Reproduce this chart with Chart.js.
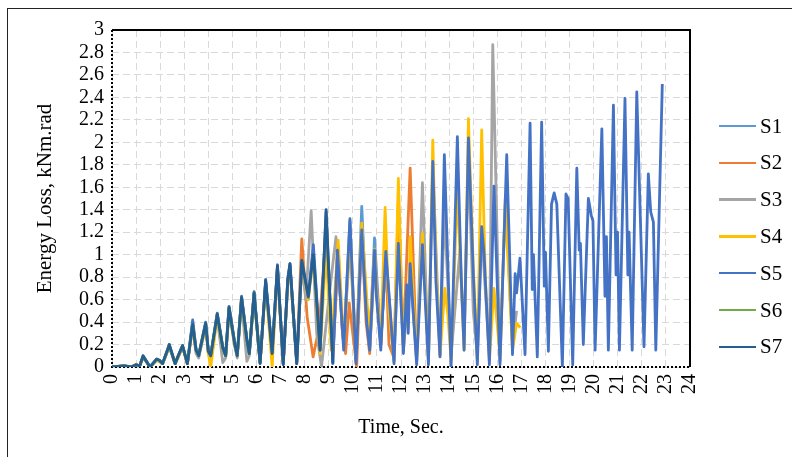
<!DOCTYPE html>
<html>
<head>
<meta charset="utf-8">
<script src="https://cdn.jsdelivr.net/npm/chart.js@4.4.0/dist/chart.umd.min.js"></script>
<style>
  body { margin: 0; background: #fff; }
  #wrap { position: relative; width: 792px; height: 457px; overflow: hidden; }
  #frame { position: absolute; left: 7px; top: 8px; width: 820px; height: 480px; border: 1px solid #222; pointer-events: none; }
  .key { position: absolute; left: 719px; height: 24px; display: flex; align-items: center; font: 21px "Liberation Serif", serif; color: #000; }
  .key .swatch { width: 37px; height: 2.5px; margin-right: 4px; }
</style>
</head>
<body>
<div id="wrap">
  <canvas id="energyChart" width="792" height="457"></canvas>
  <div id="frame"></div>
  <div id="legend"></div>
</div>
<script>
const seriesNames = ['S1', 'S2', 'S3', 'S4', 'S5', 'S6', 'S7'];
const seriesColors = ['#5B9BD5', '#ED7D31', '#A5A5A5', '#FFC000', '#4472C4', '#70AD47', '#255E91'];

// time stamps of the peaks / troughs (sec)
const baseTime = [0, 0.5, 0.8, 1.0, 1.15, 1.29, 1.58, 1.85, 1.97, 2.1, 2.38, 2.62, 2.75, 2.93, 3.13,
  3.35, 3.49, 3.6, 3.89, 4.0, 4.1, 4.37, 4.6, 4.72, 4.86, 5.1, 5.2, 5.38, 5.6, 5.7, 5.9, 6.15,
  6.38, 6.65, 6.87, 7.11, 7.3, 7.39, 7.67, 7.88, 8.15, 8.36, 8.64, 8.89];

const s1Time = baseTime.concat([9.17, 9.36, 9.62, 9.88, 10.13, 10.37, 10.58, 10.7, 10.9, 11.16, 11.37, 11.6]);
const s1Energy = [0, 0.01, 0.0, 0.02, 0.01, 0.09, 0.0, 0.06, 0.05, 0.03, 0.18, 0.03, 0.09, 0.18, 0.03,
  0.40, 0.15, 0.10, 0.37, 0.14, 0.10, 0.45, 0.17, 0.10, 0.52, 0.20, 0.10, 0.60, 0.24, 0.12, 0.65, 0.04,
  0.75, 0.12, 0.88, 0.03, 0.76, 0.90, 0.04, 0.92, 0.60, 1.05, 0.15, 1.30,
  0.05, 1.0, 0.2, 1.3, 0.05, 1.43, 0.4, 0.2, 1.15, 0.2, 1.0, 0.3];

const s2Time = baseTime.slice(0, 38).concat([7.67, 7.88, 8.1, 8.35, 8.6, 8.89, 9.17, 9.4, 9.55, 9.7, 9.85,
  10.16, 10.37, 10.55, 10.7, 10.9, 11.16, 11.37, 11.5, 11.71, 11.89, 12.1, 12.38, 12.65]);
const s2Energy = [0, 0.01, 0.0, 0.02, 0.01, 0.09, 0.0, 0.06, 0.05, 0.03, 0.19, 0.03, 0.09, 0.18, 0.03,
  0.37, 0.14, 0.10, 0.38, 0.13, 0.10, 0.46, 0.16, 0.10, 0.52, 0.19, 0.10, 0.61, 0.23, 0.12, 0.65, 0.04,
  0.76, 0.12, 0.89, 0.03, 0.77, 0.90,
  0.05, 1.14, 0.45, 0.09, 0.35, 1.2, 0.1, 1.0, 0.35, 0.12, 0.57, 0.0, 1.2, 0.4, 0.12, 1.0, 0.2, 1.0,
  0.2, 0.08, 1.5, 0.2, 1.77, 0.05];

const s3Time = baseTime.slice(0, 38).concat([7.67, 7.88, 8.05, 8.27, 8.5, 8.7, 9.0, 9.3, 9.62, 9.88, 10.13,
  10.37, 10.7, 10.9, 11.16, 11.37, 11.71, 11.89, 12.1, 12.38, 12.65, 12.89, 13.14, 13.32, 13.62, 13.8,
  14.08, 14.45, 14.62, 14.8, 15.0, 15.17, 15.35, 15.67, 15.81, 16.11, 16.33, 16.63, 16.8]);
const s3Energy = [0, 0.01, 0.0, 0.02, 0.01, 0.09, 0.0, 0.06, 0.05, 0.03, 0.18, 0.03, 0.09, 0.18, 0.03,
  0.36, 0.12, 0.08, 0.36, 0.12, 0.08, 0.44, 0.04, 0.08, 0.50, 0.18, 0.08, 0.58, 0.05, 0.10, 0.62, 0.04,
  0.74, 0.10, 0.86, 0.03, 0.74, 0.88,
  0.05, 0.9, 0.6, 1.39, 0.3, 0.0, 0.6, 1.16, 0.2, 1.1, 0.1, 1.1, 0.15, 0.9, 0.2, 1.0, 0.05, 1.08, 0.15,
  0.85, 0.05, 1.64, 0.05, 1.8, 0.1, 1.4, 0.1, 1.05, 0.2, 1.9, 0.5, 0.1, 1.2, 0.1, 2.87, 0.05, 1.5, 0.2, 0.5];

const s4Time = baseTime.concat([9.1, 9.39, 9.62, 9.88, 10.13, 10.37, 10.6, 10.7, 10.9, 11.0, 11.16, 11.34,
  11.5, 11.71, 11.89, 12.1, 12.24, 12.3, 12.38, 12.65, 12.89, 13.14, 13.32, 13.45, 13.62, 13.82, 13.95,
  14.08, 14.34, 14.45, 14.62, 14.8, 15.0, 15.17, 15.35, 15.5, 15.67, 15.86, 16.11, 16.33, 16.63, 16.8, 16.95]);
const s4Energy = [0, 0.01, 0.0, 0.02, 0.01, 0.09, 0.0, 0.06, 0.05, 0.03, 0.18, 0.03, 0.09, 0.18, 0.03,
  0.36, 0.15, 0.10, 0.37, 0.12, 0.0, 0.45, 0.16, 0.10, 0.50, 0.19, 0.10, 0.60, 0.23, 0.12, 0.64, 0.04,
  0.74, 0.0, 0.88, 0.03, 0.76, 0.88, 0.04, 0.92, 0.6, 1.0, 0.12, 1.05,
  0.15, 1.13, 0.2, 1.2, 0.1, 1.28, 0.55, 0.3, 1.05, 0.62, 0.2, 1.42, 0.5, 0.05, 1.68, 0.15, 0.7, 0.35,
  1.16, 0.05, 1.19, 0.05, 2.02, 0.9, 0.1, 0.7, 0.45, 0.05, 1.6, 1.0, 0.15, 2.21, 0.9, 0.05, 2.11, 0.8,
  0.05, 0.7, 0.1, 1.45, 0.15, 0.39, 0.35];

const s5Time = baseTime.concat([9.17, 9.36, 9.62, 9.88, 10.13, 10.37, 10.58, 10.7, 10.9, 10.98, 11.16,
  11.37, 11.71, 11.89, 12.1, 12.24, 12.3, 12.38, 12.65, 12.89, 13.14, 13.32, 13.45, 13.62, 13.8, 14.08,
  14.34, 14.5, 14.62, 14.8, 15.0, 15.17, 15.35, 15.45, 15.67, 15.86, 16.11, 16.39, 16.63, 16.74, 16.8,
  16.94, 17.15, 17.36, 17.45, 17.5, 17.66, 17.84, 17.95, 18.0, 18.12, 18.25, 18.36, 18.47, 18.7, 18.85,
  18.94, 19.13, 19.3, 19.4, 19.45, 19.57, 19.78, 19.9, 19.97, 20.06, 20.34, 20.47, 20.53, 20.61, 20.82,
  20.93, 20.99, 21.07, 21.3, 21.42, 21.47, 21.6, 21.79, 22.09, 22.27, 22.37, 22.48, 22.58, 22.85]);
const s5Energy = [0, 0.01, 0.0, 0.02, 0.01, 0.09, 0.0, 0.07, 0.06, 0.03, 0.19, 0.03, 0.10, 0.19, 0.03,
  0.42, 0.16, 0.11, 0.40, 0.15, 0.11, 0.48, 0.18, 0.11, 0.54, 0.21, 0.11, 0.63, 0.25, 0.12, 0.67, 0.04,
  0.78, 0.13, 0.91, 0.03, 0.79, 0.92, 0.03, 0.93, 0.62, 1.09, 0.15, 1.38,
  0.03, 1.04, 0.15, 1.32, 0.03, 1.22, 0.39, 0.15, 1.04, 0.63, 0.15,
  1.03, 0.03, 1.1, 0.12, 0.73, 0.3, 0.92, 0.02, 1.09, 0.02, 1.83, 0.76, 0.09, 1.89, 0.0,
  2.05, 0.8, 0.15, 2.04, 0.84, 0.02, 1.25, 1.0, 0.02, 1.61, 0.02, 1.89, 0.11, 0.83, 0.66,
  0.97, 0.11, 2.17, 0.69, 1.0, 0.09, 2.18, 0.72, 1.02, 0.14, 1.45, 1.55, 1.45, 0.0, 1.54,
  1.5, 0.02, 1.77, 1.04, 1.1, 0.2, 1.5, 1.35, 1.3, 0.15, 2.12, 0.63, 1.16, 0.15, 2.33,
  0.82, 1.2, 0.15, 2.39, 0.82, 1.2, 0.15, 2.45, 0.18, 1.72, 1.38, 1.29, 0.15, 2.52];

const s6Time = baseTime.slice(0, 32);
const s6Energy = [0, 0.01, 0.0, 0.02, 0.01, 0.10, 0.0, 0.07, 0.06, 0.03, 0.20, 0.03, 0.10, 0.19, 0.03,
  0.38, 0.15, 0.10, 0.39, 0.14, 0.10, 0.47, 0.17, 0.10, 0.53, 0.20, 0.10, 0.62, 0.24, 0.12, 0.66, 0.03];

const s7Time = baseTime.concat([9.17]);
const s7Energy = [0, 0.01, 0.0, 0.02, 0.01, 0.10, 0.0, 0.07, 0.06, 0.03, 0.20, 0.03, 0.10, 0.19, 0.03,
  0.38, 0.15, 0.10, 0.39, 0.14, 0.10, 0.47, 0.17, 0.10, 0.53, 0.20, 0.10, 0.62, 0.24, 0.12, 0.66, 0.03,
  0.77, 0.12, 0.90, 0.02, 0.78, 0.92, 0.03, 0.95, 0.63, 1.00, 0.15, 1.40, 0.03];

const seriesTime = [s1Time, s2Time, s3Time, s4Time, s5Time, s6Time, s7Time];
const seriesEnergy = [s1Energy, s2Energy, s3Energy, s4Energy, s5Energy, s6Energy, s7Energy];

const serif = '"Liberation Serif", "Times New Roman", serif';

// plot frame: solid top/right, dotted left/bottom like the original
const plotFrame = {
  id: 'plotFrame',
  beforeDatasetsDraw(chart) {
    const { ctx, chartArea: a } = chart;
    ctx.save();
    ctx.strokeStyle = '#000';
    ctx.lineWidth = 2;
    ctx.beginPath();
    ctx.moveTo(a.left, a.top);
    ctx.lineTo(a.right, a.top);
    ctx.lineTo(a.right, a.bottom);
    ctx.stroke();
    ctx.setLineDash([2, 2]);
    ctx.beginPath();
    ctx.moveTo(a.left, a.top);
    ctx.lineTo(a.left, a.bottom);
    ctx.lineTo(a.right, a.bottom);
    ctx.stroke();
    ctx.restore();
  }
};

const datasets = seriesNames.map((name, i) => ({
  label: name,
  data: seriesTime[i].map((t, j) => ({ x: t, y: seriesEnergy[i][j] })),
  borderColor: seriesColors[i],
  backgroundColor: seriesColors[i],
  borderWidth: 2.8,
  borderJoinStyle: 'round',
  pointRadius: 0,
  tension: 0,
  order: seriesNames.length - i
}));

new Chart(document.getElementById('energyChart').getContext('2d'), {
  type: 'line',
  data: { datasets },
  options: {
    responsive: false,
    animation: false,
    layout: { padding: { left: 29, top: 30, right: 102, bottom: 13 } },
    plugins: { legend: { display: false }, tooltip: { enabled: false } },
    scales: {
      x: {
        type: 'linear',
        min: 0,
        max: 24,
        afterFit: s => { s.height = 77; },
        ticks: {
          stepSize: 1,
          autoSkip: false,
          minRotation: 90,
          maxRotation: 90,
          padding: 7,
          color: '#000',
          font: { family: serif, size: 20 }
        },
        grid: { color: '#d9d9d9', drawTicks: false },
        border: { display: false, dash: [7, 4] },
        title: {
          display: true,
          text: 'Time, Sec.',
          color: '#000',
          padding: { top: 4, bottom: 4 },
          font: { family: serif, size: 20 }
        }
      },
      y: {
        min: 0,
        max: 3,
        afterFit: s => { s.width = 83; },
        ticks: {
          stepSize: 0.2,
          autoSkip: false,
          padding: 8,
          color: '#000',
          font: { family: serif, size: 20 },
          callback: v => String(Number(v.toFixed(1)))
        },
        grid: { color: '#d9d9d9', drawTicks: false },
        border: { display: false, dash: [7, 4] },
        title: {
          display: true,
          text: 'Energy Loss, kNm.rad',
          color: '#000',
          padding: { top: 4, bottom: 4 },
          font: { family: serif, size: 21 }
        }
      }
    }
  },
  plugins: [plotFrame]
});

// legend on the right, one row per series
const legend = document.getElementById('legend');
seriesNames.forEach((name, i) => {
  const row = document.createElement('div');
  row.className = 'key';
  row.style.top = (126 + i * 36.8 - 12) + 'px';
  row.innerHTML = `<span class="swatch" style="background:${seriesColors[i]}"></span>${name}`;
  legend.appendChild(row);
});
</script>
</body>
</html>
